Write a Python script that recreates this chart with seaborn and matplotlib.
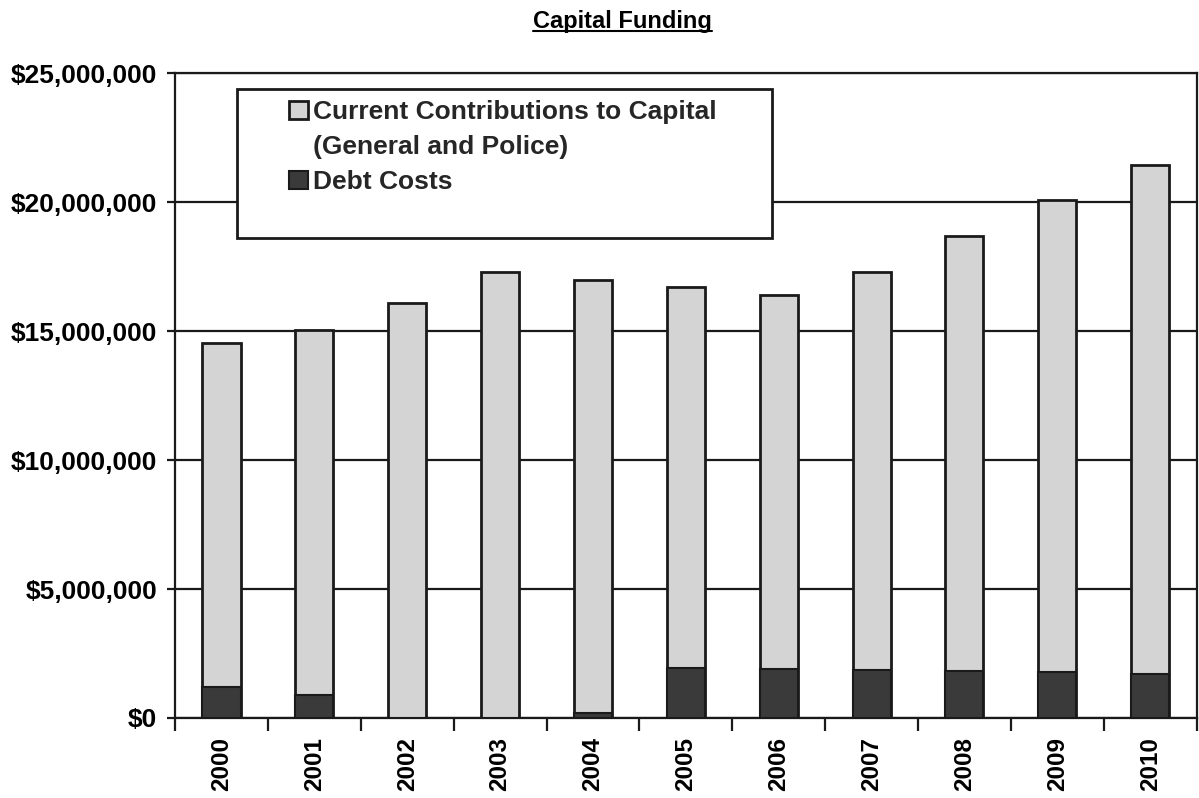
import matplotlib
matplotlib.use("Agg")
import matplotlib.pyplot as plt
from matplotlib.lines import Line2D
from matplotlib.patches import Rectangle, Patch
from matplotlib.ticker import FuncFormatter, FixedLocator, MultipleLocator
import numpy as np
import pandas as pd
import seaborn as sns

# Capital funding by year (dollars)
years = ["2000", "2001", "2002", "2003", "2004", "2005",
         "2006", "2007", "2008", "2009", "2010"]
contributions = [13.33e6, 14.15e6, 16.10e6, 17.30e6, 16.80e6, 14.75e6,
                 14.50e6, 15.43e6, 16.88e6, 18.33e6, 19.75e6]
debt_costs = [1.20e6, 0.90e6, 0.0, 0.0, 0.20e6, 1.95e6,
              1.90e6, 1.87e6, 1.82e6, 1.77e6, 1.70e6]
legend_lines = ["Current Contributions to Capital", "(General and Police)",
                "Debt Costs"]

LIGHT = "#d4d4d4"
DARK = "#3a3a3a"
INK = "#1a1a1a"

sns.set_theme(style="white")
plt.rcParams["font.family"] = ["Liberation Sans", "DejaVu Sans"]
plt.rcParams["font.weight"] = "bold"

df = pd.DataFrame({"year": years, "contrib": contributions, "debt": debt_costs})
df["total"] = df["contrib"] + df["debt"]

fig = plt.figure(figsize=(11.99, 7.98), dpi=100)
ax = fig.add_axes([0.146, 0.1003, 0.852, 0.808])

# stacked bars: full total in light grey, debt portion drawn over its base
sns.barplot(data=df, x="year", y="total", color=LIGHT, saturation=1,
            width=0.41, edgecolor=INK, linewidth=2, errorbar=None,
            ax=ax, zorder=3)
sns.barplot(data=df, x="year", y="debt", color=DARK, saturation=1,
            width=0.41, edgecolor=INK, linewidth=1.5, errorbar=None,
            ax=ax, zorder=4)

ax.set_xlim(-0.5, len(years) - 0.5)
ax.set_ylim(0, 25e6)
ax.yaxis.set_major_locator(MultipleLocator(5e6))
ax.yaxis.set_major_formatter(FuncFormatter(lambda v, p: f"${v:,.0f}"))
ax.set_xlabel("")
ax.set_ylabel("")

ax.set_axisbelow(True)
ax.grid(axis="y", color=INK, linewidth=1.6)
ax.grid(axis="x", visible=False)
for s in ax.spines.values():
    s.set_color(INK)
    s.set_linewidth(1.6)

ax.tick_params(axis="y", which="major", left=True, length=6, width=1.6,
               color=INK, pad=7, labelsize=19, labelcolor="black")
ax.tick_params(axis="x", which="major", bottom=False, length=0, pad=14,
               labelsize=17.5, labelcolor="black", labelrotation=90)
ax.xaxis.set_minor_locator(FixedLocator(np.arange(-0.5, len(years), 1.0)))
ax.tick_params(axis="x", which="minor", bottom=True, length=9, width=1.6,
               color=INK)
for lbl in ax.get_xticklabels() + ax.get_yticklabels():
    lbl.set_fontweight("bold")

# legend box
box = Rectangle((0.0605, 0.744), 0.5235, 0.231, transform=ax.transAxes,
                facecolor="white", edgecolor=INK, linewidth=2, zorder=5)
ax.add_patch(box)
spacer = Patch(facecolor="none", edgecolor="none")
handles = [ax.containers[0], spacer, ax.containers[1]]
leg = ax.legend(handles, legend_lines, loc="upper left",
                bbox_to_anchor=(0.112, 0.958), frameon=False, fontsize=19,
                handlelength=0.7, handleheight=0.7, handletextpad=0.2,
                labelspacing=0.42, borderaxespad=0, borderpad=0)
leg.set_zorder(6)
for t in leg.get_texts():
    t.set_fontweight("bold")

# underlined title
title = fig.text(0.519, 0.988, "Capital Funding", ha="center", va="top",
                 fontsize=17, fontweight="bold", color="black")
fig.canvas.draw()
bb = title.get_window_extent().transformed(fig.transFigure.inverted())
fig.add_artist(Line2D([bb.x0, bb.x1], [bb.y0 + 0.002, bb.y0 + 0.002],
                      transform=fig.transFigure, color="black", linewidth=1.5))

fig.savefig("out.png", dpi=100, facecolor="white")
